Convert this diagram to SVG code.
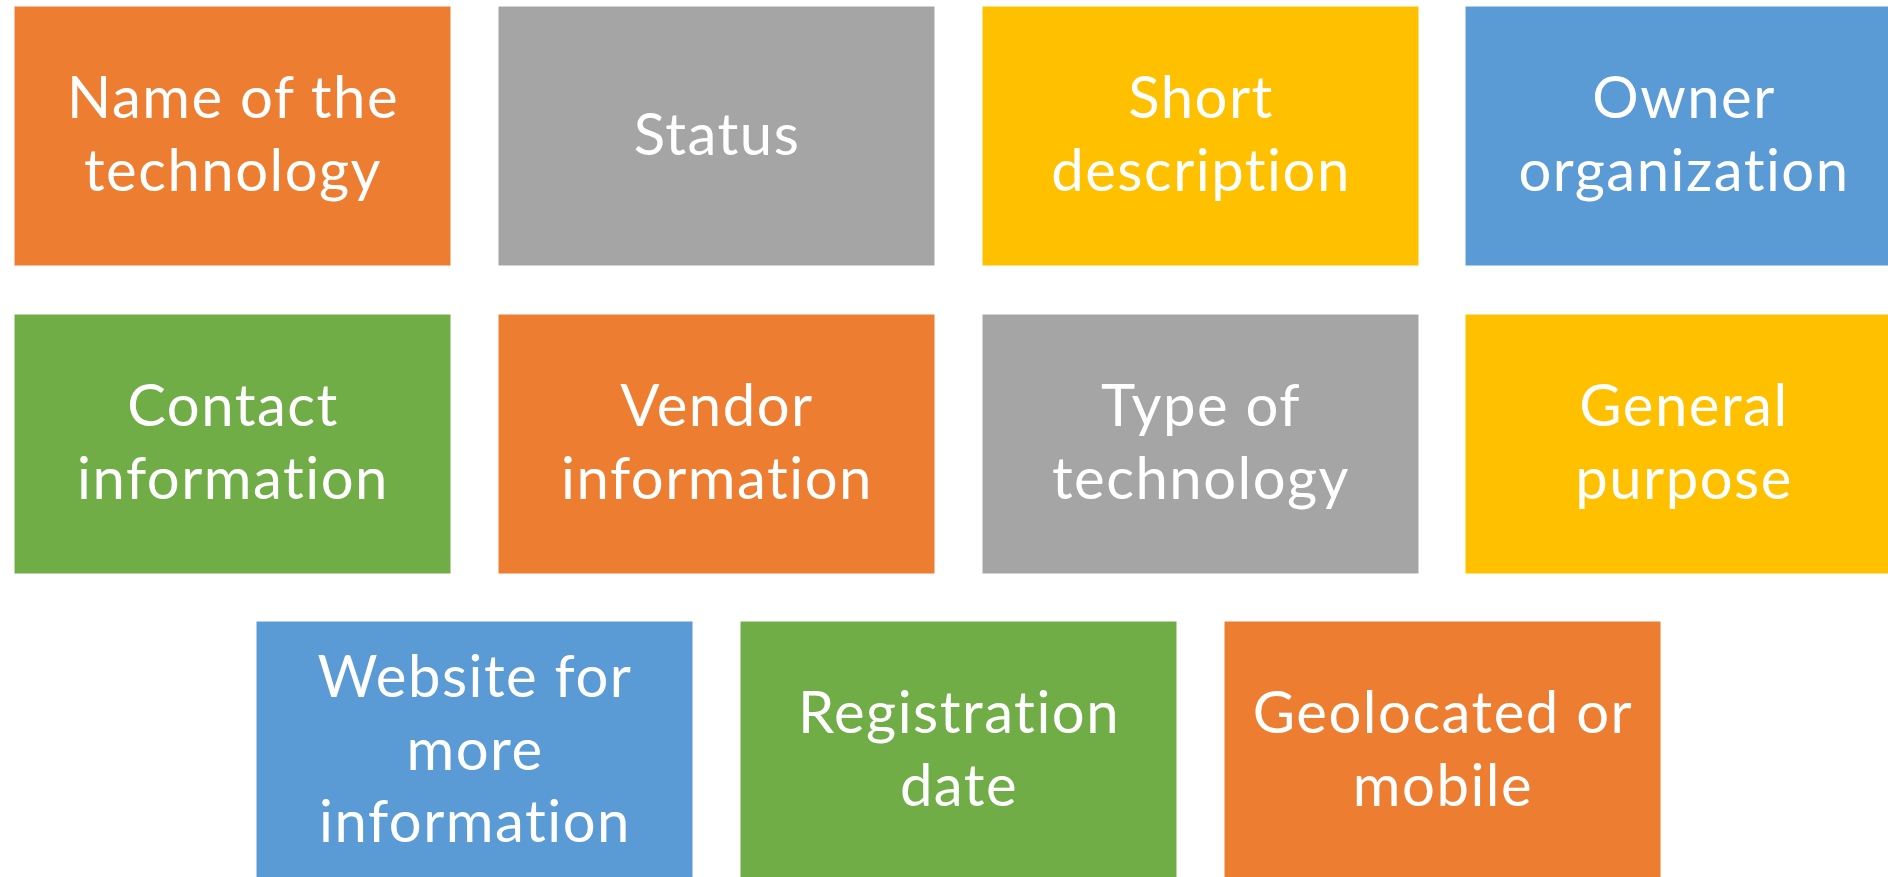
<svg xmlns="http://www.w3.org/2000/svg" width="1888" height="877" viewBox="0 0 1888 877">
<style>
rect{stroke:#fff;stroke-width:1}
.o{fill:#ED7D31}.g{fill:#A5A5A5}.y{fill:#FFC000}.b{fill:#5B9BD5}.gr{fill:#70AD47}
text{font-family:Lato,"Liberation Sans",sans-serif;font-size:58px;letter-spacing:1.5px;font-variant-ligatures:none;font-feature-settings:"liga" 0,"clig" 0;fill:#fff;text-anchor:middle}
</style>
<rect width="1888" height="877" fill="#fff" style="stroke:none"/>
<g id="n1"><rect class="o" x="14" y="6" width="437" height="260"/><text><tspan x="233" y="118">Name of the</tspan><tspan x="233" y="191">technology</tspan></text></g>
<g id="n2"><rect class="g" x="498" y="6" width="437" height="260"/><text x="717" y="155">Status</text></g>
<g id="n3"><rect class="y" x="982" y="6" width="437" height="260"/><text><tspan x="1201" y="118">Short</tspan><tspan x="1201" y="191">description</tspan></text></g>
<g id="n4"><rect class="b" x="1465" y="6" width="437" height="260"/><text><tspan x="1684" y="118">Owner</tspan><tspan x="1684" y="191">organization</tspan></text></g>
<g id="n5"><rect class="gr" x="14" y="314" width="437" height="260"/><text><tspan x="233" y="426">Contact</tspan><tspan x="233" y="499">information</tspan></text></g>
<g id="n6"><rect class="o" x="498" y="314" width="437" height="260"/><text><tspan x="717" y="426">Vendor</tspan><tspan x="717" y="499">information</tspan></text></g>
<g id="n7"><rect class="g" x="982" y="314" width="437" height="260"/><text><tspan x="1201" y="426">Type of</tspan><tspan x="1201" y="499">technology</tspan></text></g>
<g id="n8"><rect class="y" x="1465" y="314" width="437" height="260"/><text><tspan x="1684" y="426">General</tspan><tspan x="1684" y="499">purpose</tspan></text></g>
<g id="n9"><rect class="b" x="256" y="621" width="437" height="260"/><text><tspan x="475" y="697">Website for</tspan><tspan x="475" y="770">more</tspan><tspan x="475" y="842">information</tspan></text></g>
<g id="n10"><rect class="gr" x="740" y="621" width="437" height="260"/><text><tspan x="959" y="733">Registration</tspan><tspan x="959" y="806">date</tspan></text></g>
<g id="n11"><rect class="o" x="1224" y="621" width="437" height="260"/><text><tspan x="1443" y="733">Geolocated or</tspan><tspan x="1443" y="806">mobile</tspan></text></g>
<g id="connectors"/>
</svg>
